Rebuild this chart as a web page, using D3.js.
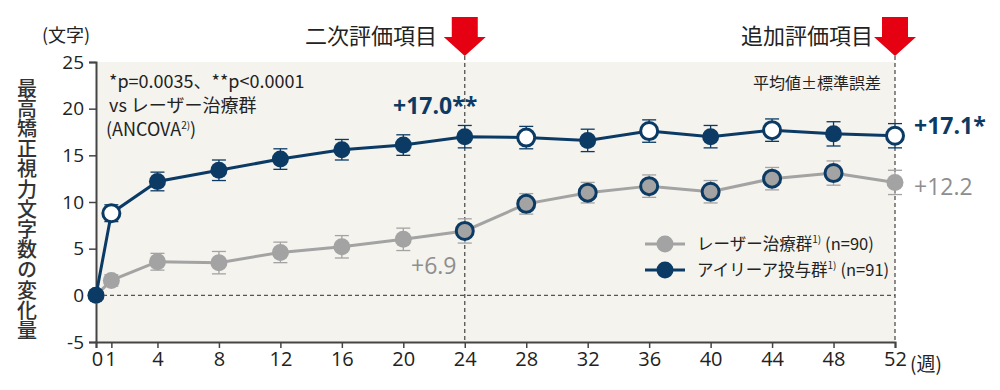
<!DOCTYPE html>
<html>
<head>
<meta charset="utf-8">
<script src="https://cdn.jsdelivr.net/npm/d3@7"></script>
<style>
  body { margin: 0; background: #fff; }
  text { font-family: "Noto Sans CJK JP", "Noto Sans", sans-serif; }
</style>
</head>
<body>
<div id="vis"></div>
<script>
const W = 1000, H = 390;
const navy = "#0b3a64", grey = "#a3a3a3", red = "#e50012";

// weeks and values
const weeks = [0, 1, 4, 8, 12, 16, 20, 24, 28, 32, 36, 40, 44, 48, 52];
const xTicks = [0, 1, 4, 8, 12, 16, 20, 24, 28, 32, 36, 40, 44, 48, 52];
const yTicks = [-5, 0, 5, 10, 15, 20, 25];

const eyleaMean = [0, 8.8, 12.2, 13.4, 14.6, 15.6, 16.1, 17.0, 16.9, 16.6, 17.6, 17.0, 17.7, 17.3, 17.1];
const eyleaSE   = [0, 0.9, 1.0, 1.1, 1.1, 1.1, 1.1, 1.2, 1.2, 1.2, 1.2, 1.2, 1.2, 1.3, 1.3];
const eyleaOpen = [false, true, false, false, false, false, false, false, true, false, true, false, true, false, true];

const laserMean = [0, 1.6, 3.6, 3.5, 4.6, 5.2, 6.0, 6.9, 9.8, 11.0, 11.7, 11.1, 12.5, 13.1, 12.1];
const laserSE   = [0, 0.6, 0.9, 1.2, 1.1, 1.2, 1.2, 1.3, 1.1, 1.1, 1.2, 1.2, 1.2, 1.3, 1.3];
const laserRing = [false, false, false, false, false, false, false, true, true, true, true, true, true, true, false];

const svg = d3.select("#vis").append("svg")
    .attr("width", W).attr("height", H);

const x = d3.scaleLinear().domain([0, 52]).range([96, 895]);
const y = d3.scaleLinear().domain([-5, 25]).range([342, 62]);

// plot background
svg.append("rect")
    .attr("x", x(0)).attr("y", y(25))
    .attr("width", x(52) - x(0)).attr("height", y(-5) - y(25))
    .attr("fill", "#f4f3ee");

// dashed reference lines
svg.append("line")
    .attr("x1", x(0)).attr("x2", x(52)).attr("y1", y(0)).attr("y2", y(0))
    .attr("stroke", "#555").attr("stroke-width", 1.2).attr("stroke-dasharray", "4,3");
[24, 52].forEach(w => {
  svg.append("line")
    .attr("x1", x(w)).attr("x2", x(w)).attr("y1", 56).attr("y2", y(-5))
    .attr("stroke", "#444").attr("stroke-width", 1.2).attr("stroke-dasharray", "4,3");
});

// axes
const yAxis = svg.append("g")
    .attr("transform", `translate(${x(0)},0)`)
    .call(d3.axisLeft(y).tickValues(yTicks).tickSize(7).tickPadding(5).tickFormat(d => String(d)));
const xAxis = svg.append("g")
    .attr("transform", `translate(0,${y(-5)})`)
    .call(d3.axisBottom(x).tickValues(xTicks).tickSize(6).tickPadding(4));
[yAxis, xAxis].forEach(g => {
  g.select(".domain").attr("stroke", "#444").attr("stroke-width", 2);
  g.selectAll(".tick line").attr("stroke", "#444").attr("stroke-width", 1.5);
  g.selectAll("text").attr("fill", "#222").style("font-size", "20px")
    .style("font-family", "'Open Sans', 'Noto Sans', sans-serif");
});
yAxis.selectAll("text").style("font-size", "19px");
xAxis.selectAll(".tick text").attr("dx", d => d === 0 ? 1 : d === 1 ? -1 : 0);

svg.append("text").attr("x", 910).attr("y", 371)
    .attr("font-size", 19).attr("fill", "#222").text("(週)");
svg.append("text").attr("x", 42).attr("y", 42)
    .attr("font-size", 18).attr("fill", "#222").text("(文字)");

// vertical y title
svg.append("text")
    .attr("transform", "translate(27,78)")
    .attr("writing-mode", "tb")
    .attr("font-size", 20).attr("font-weight", 500).attr("fill", "#333")
    .style("letter-spacing", "0.2px")
    .text("最高矯正視力文字数の変化量");

// top labels with red arrows
function arrow(cx) {
  svg.append("path")
    .attr("d", `M${cx - 13},17 H${cx + 13} V37 H${cx + 21} L${cx},56 L${cx - 21},37 H${cx - 13} Z`)
    .attr("fill", red);
}
arrow(x(24));
arrow(x(52));
svg.append("text").attr("x", 437).attr("y", 44).attr("text-anchor", "end")
    .attr("font-size", 22).attr("fill", "#222").text("二次評価項目");
svg.append("text").attr("x", 873).attr("y", 44).attr("text-anchor", "end")
    .attr("font-size", 22).attr("fill", "#222").text("追加評価項目");

// notes
const note = svg.append("g").attr("fill", "#222").attr("font-size", 18);
note.append("text").attr("x", 109).attr("y", 88).text("*p=0.0035、**p<0.0001");
note.append("text").attr("x", 109).attr("y", 112).text("vs レーザー治療群");
const anc = note.append("text").attr("x", 106).attr("y", 136);
anc.append("tspan").text("(ANCOVA");
anc.append("tspan").attr("font-size", 10).attr("dy", -7).text("2)");
anc.append("tspan").attr("dy", 7).text(")");
svg.append("text").attr("x", 881).attr("y", 89).attr("text-anchor", "end")
    .attr("font-size", 16).attr("fill", "#222").text("平均値±標準誤差");

// series
function drawSeries(mean, se, color, fillFn, strokeFn) {
  const pts = weeks.map((w, i) => ({w, m: mean[i], s: se[i], i}));
  const g = svg.append("g");
  g.append("path").datum(pts)
    .attr("fill", "none").attr("stroke", color).attr("stroke-width", 3)
    .attr("d", d3.line().x(d => x(d.w)).y(d => y(d.m)));
  const eb = g.selectAll(".eb").data(pts.filter(d => d.s > 0)).join("g");
  eb.append("line")
    .attr("x1", d => x(d.w)).attr("x2", d => x(d.w))
    .attr("y1", d => y(d.m + d.s)).attr("y2", d => y(d.m - d.s))
    .attr("stroke", color).attr("stroke-width", 1.3);
  [1, -1].forEach(sgn => {
    eb.append("line")
      .attr("x1", d => x(d.w) - 7).attr("x2", d => x(d.w) + 7)
      .attr("y1", d => y(d.m + sgn * d.s)).attr("y2", d => y(d.m + sgn * d.s))
      .attr("stroke", color).attr("stroke-width", 1.3);
  });
  g.selectAll("circle").data(pts).join("circle")
    .attr("cx", d => x(d.w)).attr("cy", d => y(d.m)).attr("r", 8.5)
    .attr("fill", d => fillFn(d.i))
    .attr("stroke", d => strokeFn(d.i)).attr("stroke-width", 3);
}
drawSeries(laserMean, laserSE, grey, () => grey, i => laserRing[i] ? navy : "none");
drawSeries(eyleaMean, eyleaSE, navy, i => eyleaOpen[i] ? "#fff" : navy, i => eyleaOpen[i] ? navy : "none");

// value labels
svg.append("text").attr("x", 393).attr("y", 114)
    .attr("font-size", 23).attr("font-weight", 700).attr("fill", navy)
    .style("font-family", "'Open Sans', sans-serif").text("+17.0**");
svg.append("text").attr("x", 914).attr("y", 134)
    .attr("font-size", 23).attr("font-weight", 700).attr("fill", navy)
    .style("font-family", "'Open Sans', sans-serif").text("+17.1*");
svg.append("text").attr("x", 914).attr("y", 195)
    .attr("font-size", 23).attr("fill", "#8e8e8e")
    .style("font-family", "'Open Sans', sans-serif").text("+12.2");
svg.append("text").attr("x", 411).attr("y", 274)
    .attr("font-size", 23).attr("fill", "#8e8e8e")
    .style("font-family", "'Open Sans', sans-serif").text("+6.9");

// legend
const legendItems = [
  {name: "レーザー治療群", n: "(n=90)", color: grey},
  {name: "アイリーア投与群", n: "(n=91)", color: navy}
];
const lg = svg.append("g").selectAll("g").data(legendItems).join("g")
    .attr("transform", (d, i) => `translate(645,${244 + i * 26})`);
lg.append("line").attr("x1", 0).attr("x2", 40)
    .attr("stroke", d => d.color).attr("stroke-width", 3);
lg.append("circle").attr("cx", 20).attr("r", 8.5).attr("fill", d => d.color);
const lt = lg.append("text").attr("x", 52).attr("y", 6)
    .attr("font-size", 16.5).attr("fill", "#222");
lt.append("tspan").text(d => d.name);
lt.append("tspan").attr("font-size", 10).attr("dy", -7).text("1)");
lt.append("tspan").attr("dy", 7).attr("dx", 4).text(d => d.n);
</script>
</body>
</html>
